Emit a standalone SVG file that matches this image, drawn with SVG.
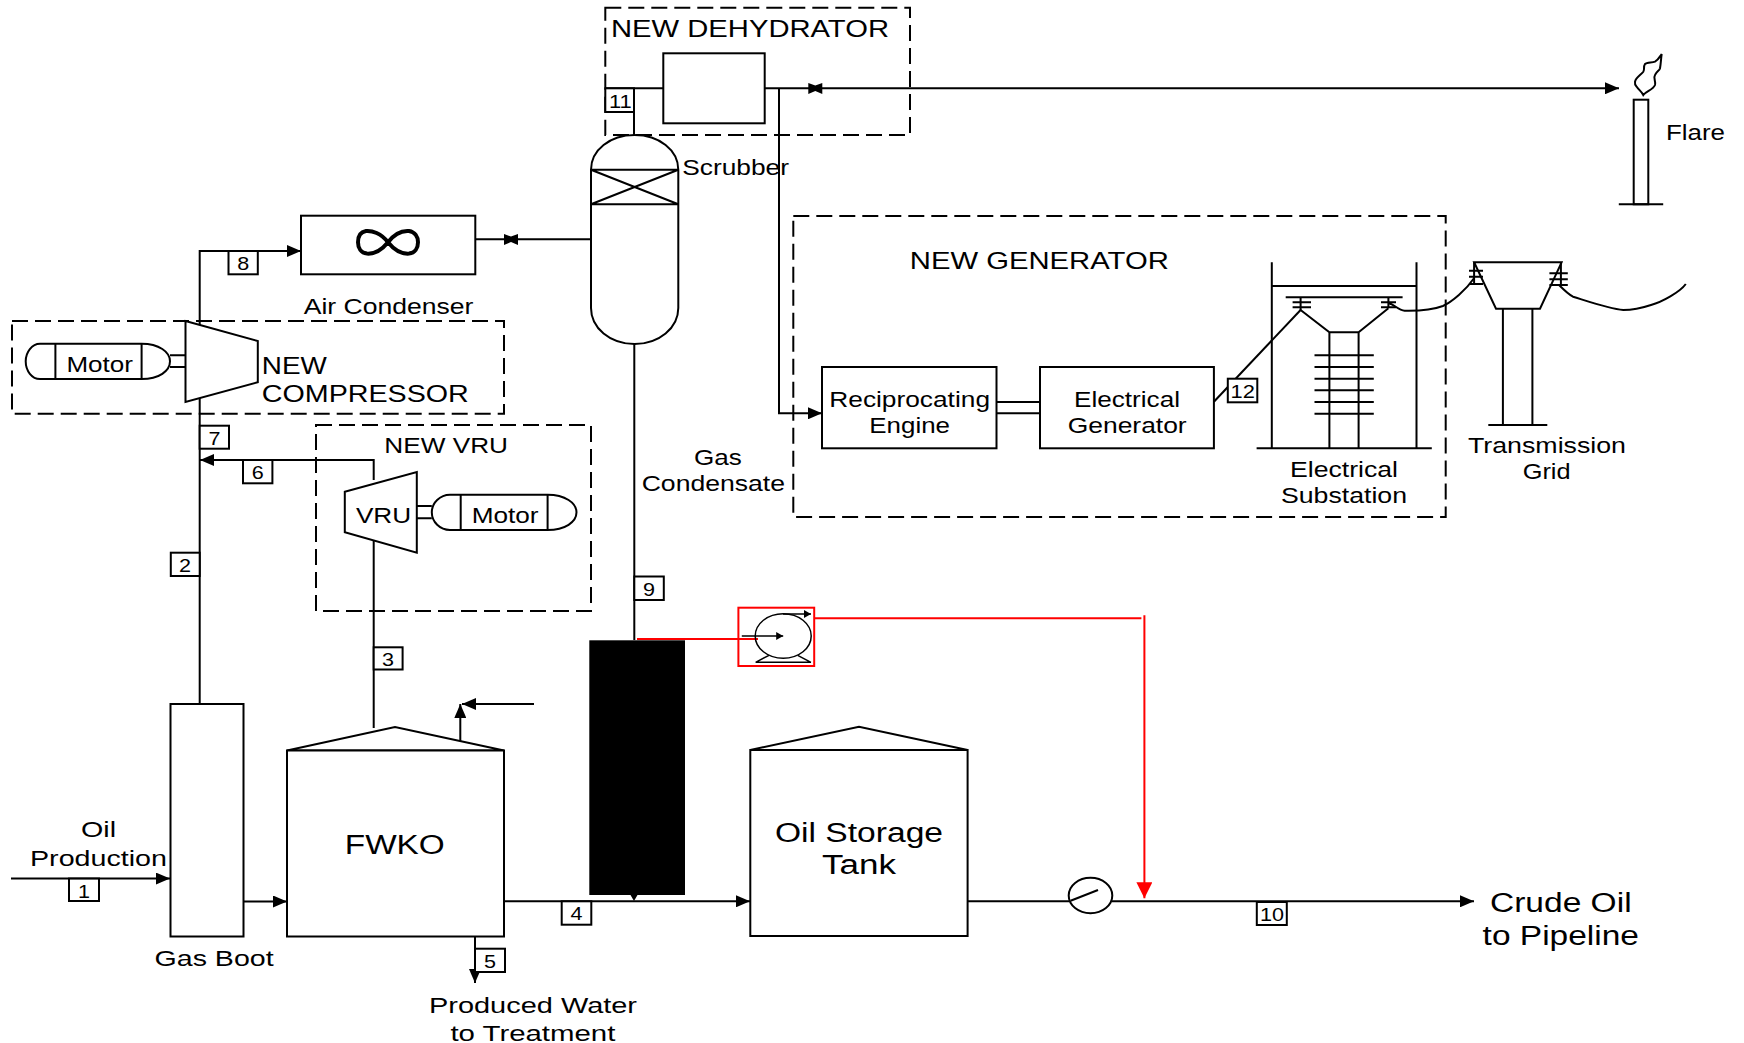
<svg xmlns="http://www.w3.org/2000/svg" width="1744" height="1043" viewBox="0 0 1744 1043">
<style>
text{font-family:"Liberation Sans",Arial,sans-serif;fill:#000}
.s{font-size:22px}.m{font-size:24px}.l{font-size:27px}.n{font-size:19px}
.e{fill:#fff;stroke:#000;stroke-width:2}
.o{fill:none;stroke:#000;stroke-width:2}
.d{fill:none;stroke:#000;stroke-width:2;stroke-dasharray:16 7}
.c{fill:none;stroke:#000;stroke-width:2}
.a{marker-end:url(#ah)}
.r{fill:none;stroke:#f00;stroke-width:2}
.t{fill:none;stroke:#000;stroke-width:1.5}
</style>
<defs>
<marker id="ah" markerUnits="userSpaceOnUse" markerWidth="15" markerHeight="12" refX="14" refY="6" orient="auto"><path d="M0 0L14 6L0 12Z" fill="#000"/></marker>
<marker id="as" markerUnits="userSpaceOnUse" markerWidth="8" markerHeight="8" refX="7" refY="4" orient="auto"><path d="M0 0L7 4L0 8Z" fill="#000"/></marker>
<marker id="ar" markerUnits="userSpaceOnUse" markerWidth="17" markerHeight="16" refX="16" refY="8" orient="auto"><path d="M0 0L16 8L0 16Z" fill="#f00"/></marker>
</defs>
<g id="connectors">
<path class="c a" d="M11 878.6H170"/>
<path class="c a" d="M243.6 901.5H287"/>
<path class="c" d="M199.7 704V325"/>
<path class="c a" d="M199.7 325V251H301"/>
<path class="c" d="M373.7 728V535"/>
<path class="c a" d="M373.7 480V460H200"/>
<path class="c a" d="M460.3 741V704"/>
<path class="c a" d="M534 704H462"/>
<path class="c a" d="M504 901.3H750"/>
<path class="c a" d="M475 936V983"/>
<path class="c" d="M475.3 239.3H591"/>
<path class="c" d="M605.3 88.3H663.3"/>
<path class="c" d="M634 88.3V135"/>
<path class="c a" d="M764.7 88.3H1619"/>
<path class="c a" d="M779 88.3V413.3H822"/>
<path class="c" d="M634.3 344V640"/>
<path class="c" d="M996.5 402H1040M996.5 413.3H1040"/>
<path class="c" d="M1213.9 401.7L1300.6 310"/>
<path class="c" d="M967.6 901.3H1069"/>
<path class="c a" d="M1112 901.3H1474"/>
<path class="c" d="M1388.4 303.3C1394 304 1398 310 1404.7 310.7C1420 311 1435 309 1442.9 306C1452 302 1466 290 1474 278.3"/>
<path class="c" d="M1559 285C1563 289 1568 294 1573 296.7C1590 302 1610 309 1623.3 310C1635 310 1645 307 1651 305C1662 302 1680 292 1685.8 284"/>
<path class="r" d="M637 639H758"/>
<path class="r" d="M815 618.3H1141.4"/>
<path class="r" d="M1144.4 615.3V898.3" marker-end="url(#ar)"/>
</g>
<g id="oil-production"><text class="s" x="81" y="837" textLength="35" lengthAdjust="spacingAndGlyphs">Oil</text><text class="s" x="30" y="866.4" textLength="137" lengthAdjust="spacingAndGlyphs">Production</text></g>
<g id="gas-boot"><rect class="e" x="170.5" y="704" width="73" height="232.5"/><text class="s" x="154.6" y="966" textLength="119" lengthAdjust="spacingAndGlyphs">Gas Boot</text></g>
<g id="fwko"><path class="e" d="M287 750.5L395 727L504 750.5Z"/><rect class="e" x="287" y="750.5" width="217" height="186"/><text class="l" x="344.8" y="854" textLength="100" lengthAdjust="spacingAndGlyphs">FWKO</text></g>
<g id="produced-water"><text class="s" x="429" y="1013" textLength="208" lengthAdjust="spacingAndGlyphs">Produced Water</text><text class="s" x="450.4" y="1041" textLength="165" lengthAdjust="spacingAndGlyphs">to Treatment</text></g>
<g id="new-compressor">
<rect class="d" x="12" y="321" width="492" height="92.7"/>
<path class="o" d="M170 355.3H185.5M170 367H185.5"/>
<path class="e" d="M40 343.7H141.6C159 343.7 170 352 170 361.3C170 371 159 379 141.6 379H40C32 379 25.7 371 25.7 361.3C25.7 352 32 343.7 40 343.7Z"/>
<path class="o" d="M55.4 343.7V379M141.6 343.7V379"/>
<text class="s" x="66.4" y="372.3" textLength="66.5" lengthAdjust="spacingAndGlyphs">Motor</text>
<path class="e" d="M185.5 321L257.8 341V382.3L185.5 402Z"/>
<text class="m" x="261.8" y="373.7" textLength="65" lengthAdjust="spacingAndGlyphs">NEW</text>
<text class="m" x="261.8" y="401.7" textLength="207" lengthAdjust="spacingAndGlyphs">COMPRESSOR</text>
</g>
<g id="air-condenser">
<rect class="e" x="301" y="215.7" width="174.3" height="58.6"/>
<path d="M388 242.3C381 233 372 230.5 366 231C360 232 358 237 358 242.3C358 248 361 253 367 253.6C373 254 381 251 388 242.3C395 233 403 230.5 409 231C415 232 418 237 418 242.3C418 248 415 253 409 253.6C403 254 395 251 388 242.3Z" fill="none" stroke="#000" stroke-width="4"/>
<text class="s" x="303.7" y="314" textLength="169.6" lengthAdjust="spacingAndGlyphs">Air Condenser</text>
</g>
<g id="valve-condenser"><path d="M504 234L511 236.5L518 234V245L511 242L504 245Z" fill="#000"/></g>
<g id="new-vru">
<rect class="d" x="316" y="425" width="275" height="186"/>
<text class="s" x="384.3" y="453" textLength="123.7" lengthAdjust="spacingAndGlyphs">NEW VRU</text>
<path class="o" d="M416.8 506H431.8M416.8 518.3H431.8"/>
<path class="e" d="M344.8 491.7L416.8 472V552.7L344.8 532.3Z"/>
<text class="s" x="355.9" y="522.7" textLength="55.3" lengthAdjust="spacingAndGlyphs">VRU</text>
<path class="e" d="M450 494.7H547.6C565 494.7 576.5 503 576.5 512.3C576.5 522 565 530 547.6 530H450C440 530 431.8 522 431.8 512.3C431.8 503 440 494.7 450 494.7Z"/>
<path class="o" d="M460.7 494.7V530M547.6 494.7V530"/>
<text class="s" x="471.7" y="522.7" textLength="66.9" lengthAdjust="spacingAndGlyphs">Motor</text>
</g>
<g id="scrubber">
<path class="e" d="M591 169.7C591 150 610 135 634.6 135C659 135 678.3 150 678.3 169.7V308C678.3 328 659 344 634.6 344C610 344 591 328 591 308Z"/>
<path class="o" d="M591 169.7H678.3M591 204.3H678.3M591 169.7L678.3 204.3M678.3 169.7L591 204.3"/>
<text class="s" x="682.3" y="175" textLength="106.7" lengthAdjust="spacingAndGlyphs">Scrubber</text>
</g>
<g id="new-dehydrator">
<rect class="d" x="605.3" y="7.7" width="304.7" height="127.3"/>
<text class="m" x="611" y="36.7" textLength="278" lengthAdjust="spacingAndGlyphs">NEW DEHYDRATOR</text>
<rect class="e" x="663.3" y="53.3" width="101.4" height="70"/>
</g>
<g id="valve-flare"><path d="M808.3 83L815.3 85.5L822.3 83V94L815.3 91L808.3 94Z" fill="#000"/></g>
<g id="flare">
<path class="o" d="M1661.7 54C1659 58 1658 60 1655 61.7C1652 63 1647 62 1645 64C1643 67 1645 69 1643.3 71.7C1641 75 1636 77 1635 81.7C1634.5 85 1636 86 1636.7 86.7C1639 90 1642 92 1643.3 95C1646 91 1653 90 1655 85C1656 81 1653 78 1655 75C1657 71 1659 71 1660 68.3C1661 63 1661 58 1661.7 54Z"/>
<rect class="e" x="1633.7" y="99.7" width="14.6" height="104.6"/>
<path class="o" d="M1618.8 204.3H1663.2"/>
<text class="s" x="1666" y="140" textLength="59" lengthAdjust="spacingAndGlyphs">Flare</text>
</g>
<g id="new-generator">
<rect class="d" x="793.3" y="216" width="652.4" height="301"/>
<text class="m" x="909.8" y="269" textLength="259" lengthAdjust="spacingAndGlyphs">NEW GENERATOR</text>
</g>
<g id="reciprocating-engine"><rect class="e" x="822" y="367" width="174.5" height="81.3"/><text class="s" x="829.3" y="407" textLength="160.7" lengthAdjust="spacingAndGlyphs">Reciprocating</text><text class="s" x="869.3" y="433.3" textLength="80.7" lengthAdjust="spacingAndGlyphs">Engine</text></g>
<g id="electrical-generator"><rect class="e" x="1040" y="367" width="173.9" height="81.3"/><text class="s" x="1074" y="407" textLength="106" lengthAdjust="spacingAndGlyphs">Electrical</text><text class="s" x="1067.7" y="433.3" textLength="119" lengthAdjust="spacingAndGlyphs">Generator</text></g>
<g id="electrical-substation">
<path class="o" d="M1271.8 262.3V448.3M1416.5 262.3V448.3M1256.6 448.3H1431.8M1271.8 286H1416.5M1285.7 297.3H1402.6"/>
<path class="o" d="M1300.6 297.3V310M1388.4 297.3V308.3M1292.6 302.3H1311M1292.6 307.3H1311M1381 302.3H1396M1381 307.3H1396"/>
<path class="o" d="M1300.6 310L1329.4 332.3H1358.6L1388.4 308.3M1329.4 332.3V448.3M1358.6 332.3V448.3"/>
<path class="o" d="M1314.5 355.3H1373.8M1314.5 367H1373.8M1314.5 378.7H1373.8M1314.5 390.3H1373.8M1314.5 402H1373.8M1314.5 413.7H1373.8"/>
<text class="s" x="1290" y="477.3" textLength="108" lengthAdjust="spacingAndGlyphs">Electrical</text>
<text class="s" x="1281" y="502.7" textLength="126" lengthAdjust="spacingAndGlyphs">Substation</text>
</g>
<g id="transmission-grid">
<path class="o" d="M1502.9 308.7V425M1532.4 308.7V425M1488.3 425H1547.3"/>
<path class="o" d="M1474.1 262.3H1561.6L1540 308.7H1496Z"/>
<path class="o" d="M1474.1 262.3V285M1560.9 262.3V285M1469 270.7H1483M1469 276.7H1483M1469 284H1483M1549.4 273.3H1567.8M1549.4 279.3H1567.8M1549.4 285H1567.8"/>
<text class="s" x="1468" y="453.3" textLength="158" lengthAdjust="spacingAndGlyphs">Transmission</text>
<text class="s" x="1522.7" y="479" textLength="47.9" lengthAdjust="spacingAndGlyphs">Grid</text>
</g>
<g id="gas-condensate"><text class="s" x="694" y="465" textLength="47.8" lengthAdjust="spacingAndGlyphs">Gas</text><text class="s" x="641.7" y="491" textLength="143.3" lengthAdjust="spacingAndGlyphs">Condensate</text></g>
<g id="black-block"><rect x="589.3" y="640.3" width="95.7" height="254.7" fill="#000"/><path d="M630.5 895H637.5L634 901Z" fill="#000"/></g>
<g id="pump">
<rect x="738.4" y="607.7" width="75.8" height="58.3" fill="none" stroke="#f00" stroke-width="2"/>
<ellipse class="t" cx="783.2" cy="636" rx="28" ry="22.3"/>
<path class="t" d="M755.6 662.3H811M755.6 662.3L769 655.3M811 662.3L797.7 655.3"/>
<path class="t" d="M741.8 636H783.2" marker-end="url(#as)"/>
<path class="t" d="M783 614H811" marker-end="url(#as)"/>
</g>
<g id="oil-storage-tank"><path class="e" d="M750.3 750L859 726.7L967.6 750Z"/><rect class="e" x="750.3" y="750" width="217.3" height="186"/><text class="l" x="775" y="842" textLength="168" lengthAdjust="spacingAndGlyphs">Oil Storage</text><text class="l" x="822" y="873.5" textLength="74" lengthAdjust="spacingAndGlyphs">Tank</text></g>
<g id="meter"><ellipse class="e" cx="1090.5" cy="895.5" rx="21.8" ry="17.7"/><path class="o" d="M1070.6 900.7L1098 890"/></g>
<g id="crude-oil"><text class="l" x="1490" y="911.5" textLength="141.6" lengthAdjust="spacingAndGlyphs">Crude Oil</text><text class="l" x="1482.6" y="944.5" textLength="156.4" lengthAdjust="spacingAndGlyphs">to Pipeline</text></g>
<g id="stream-1"><rect class="e" x="69" y="878.6" width="30" height="22.4"/><text class="n" x="78" y="897.6" textLength="12" lengthAdjust="spacingAndGlyphs">1</text></g>
<g id="stream-2"><rect class="e" x="170.8" y="552.7" width="28.9" height="23.3"/><text class="n" x="179" y="571.7" textLength="12" lengthAdjust="spacingAndGlyphs">2</text></g>
<g id="stream-3"><rect class="e" x="373.7" y="647.3" width="28.9" height="22.2"/><text class="n" x="382" y="666" textLength="12" lengthAdjust="spacingAndGlyphs">3</text></g>
<g id="stream-4"><rect class="e" x="561.7" y="901.3" width="29.6" height="23.4"/><text class="n" x="570.5" y="920.3" textLength="12" lengthAdjust="spacingAndGlyphs">4</text></g>
<g id="stream-5"><rect class="e" x="475" y="948.7" width="30" height="23.3"/><text class="n" x="484" y="967.7" textLength="12" lengthAdjust="spacingAndGlyphs">5</text></g>
<g id="stream-6"><rect class="e" x="243" y="460" width="29.4" height="23.3"/><text class="n" x="251.7" y="479" textLength="12" lengthAdjust="spacingAndGlyphs">6</text></g>
<g id="stream-7"><rect class="e" x="199.7" y="425.7" width="29.3" height="23"/><text class="n" x="208.4" y="444.7" textLength="12" lengthAdjust="spacingAndGlyphs">7</text></g>
<g id="stream-8"><rect class="e" x="228.5" y="251" width="29.3" height="23.3"/><text class="n" x="237.2" y="270" textLength="12" lengthAdjust="spacingAndGlyphs">8</text></g>
<g id="stream-9"><rect class="e" x="634.3" y="576.5" width="29.5" height="23.5"/><text class="n" x="643" y="595.5" textLength="12" lengthAdjust="spacingAndGlyphs">9</text></g>
<g id="stream-10"><rect class="e" x="1256.8" y="902" width="30" height="23"/><text class="n" x="1260" y="921" textLength="24" lengthAdjust="spacingAndGlyphs">10</text></g>
<g id="stream-11"><rect class="e" x="605.3" y="88.3" width="28.7" height="23.7"/><text class="n" x="608.9" y="107.5" textLength="22.8" lengthAdjust="spacingAndGlyphs">11</text></g>
<g id="stream-12"><rect class="e" x="1227.8" y="378.7" width="29.5" height="23.6"/><text class="n" x="1230.5" y="398" textLength="24.3" lengthAdjust="spacingAndGlyphs">12</text></g>
</svg>
